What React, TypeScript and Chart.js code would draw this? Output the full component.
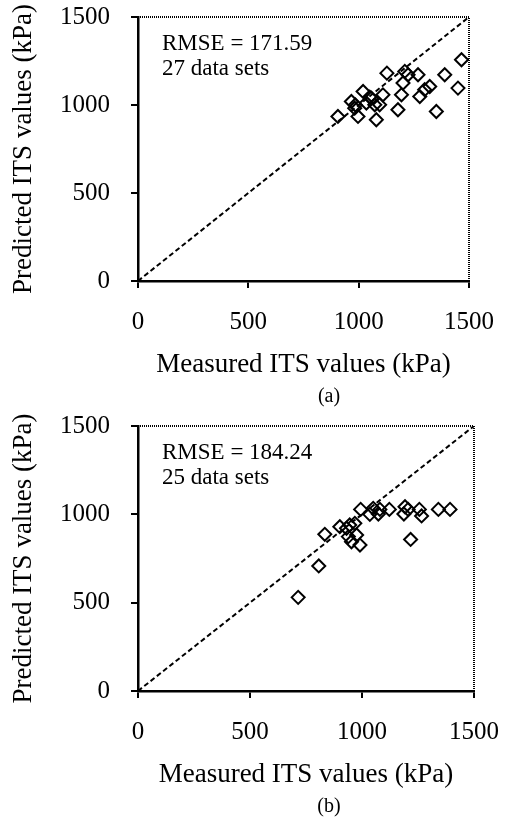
import React, { useEffect, useRef } from "react";
import { Chart, registerables } from "chart.js";

Chart.register(...registerables);

// Panel (a)
const measuredA = [906, 967, 982, 997, 1020, 1035, 1058, 1073, 1080, 1095, 1110, 1128, 1178, 1194, 1201, 1209, 1224, 1269, 1277, 1299, 1322, 1352, 1390, 1450, 1466, 985, 1050];
const predictedA = [935, 1020, 982, 935, 1077, 1011, 1039, 1001, 916, 1001, 1058, 1181, 973, 1058, 1125, 1191, 1172, 1172, 1048, 1087, 1105, 963, 1172, 1096, 1257, 1000, 1045];

// Panel (b)
const measuredB = [715, 807, 834, 901, 931, 939, 953, 968, 976, 991, 994, 1035, 1050, 1073, 1080, 1122, 1187, 1192, 1206, 1217, 1256, 1266, 1341, 1393, 945];
const predictedB = [530, 708, 887, 930, 921, 874, 845, 949, 883, 826, 1028, 1000, 1034, 1002, 1028, 1028, 1002, 1043, 1028, 858, 1028, 991, 1028, 1028, 940];

const equalityLine = [0, 1500];
const axisMin = 0;
const axisMax = 1500;
const tickStep = 500;

const xTitle = "Measured ITS values (kPa)";
const yTitle = "Predicted ITS values (kPa)";

const FONT = "'Liberation Serif', 'Times New Roman', serif";

type PanelProps = {
  xs: number[];
  ys: number[];
  note1: string;
  note2: string;
  caption: string;
  padTop: number;
  padRight: number;
  padBottom: number;
};

const textPlugin = {
  id: "figText",
  afterDraw(chart: any) {
    const { ctx, chartArea } = chart;
    const o = chart.options.plugins.figText;
    ctx.save();
    // dotted top and right frame
    ctx.strokeStyle = "#000";
    ctx.lineWidth = 2;
    ctx.setLineDash([1, 1]);
    ctx.beginPath();
    ctx.moveTo(chartArea.left, chartArea.top);
    ctx.lineTo(chartArea.right, chartArea.top);
    ctx.lineTo(chartArea.right, chartArea.bottom);
    ctx.stroke();
    ctx.setLineDash([]);
    ctx.fillStyle = "#000";
    ctx.textAlign = "left";
    ctx.textBaseline = "alphabetic";
    ctx.font = `23px ${FONT}`;
    ctx.fillText(o.note1, chartArea.left + 24, chartArea.top + 33);
    ctx.fillText(o.note2, chartArea.left + 24, chartArea.top + 58);
    ctx.textAlign = "center";
    ctx.font = `20px ${FONT}`;
    ctx.fillText(o.caption, chartArea.left + 191, chartArea.bottom + 121);
    ctx.restore();
  },
};

function Panel(props: PanelProps) {
  const ref = useRef<HTMLCanvasElement | null>(null);
  useEffect(() => {
    if (!ref.current) return;
    const points = props.xs.map((x, i) => ({ x, y: props.ys[i] }));
    const diag = equalityLine.map((v) => ({ x: v, y: v }));
    const axisCommon = (title: string, isX: boolean) => ({
      type: "linear" as const,
      min: axisMin,
      max: axisMax,
      ticks: {
        stepSize: tickStep,
        color: "#000",
        font: { family: FONT, size: 25 },
        padding: isX ? 19 : 21,
        callback: (v: any) => String(v),
      },
      grid: {
        display: true,
        drawOnChartArea: false,
        drawTicks: true,
        tickLength: 7,
        color: "#000",
        lineWidth: 2,
      },
      border: { display: true, color: "#000", width: 2.5 },
      title: {
        display: true,
        text: title,
        color: "#000",
        font: { family: FONT, size: 27 },
        padding: isX ? { top: 0, bottom: 3 } : { top: 8, bottom: 0 },
      },
      afterFit: (scale: any) => {
        if (isX) {
          scale.height = 103;
          scale.paddingLeft = 0;
          scale.paddingRight = 0;
        } else {
          scale.width = 138;
          scale.paddingTop = 0;
          scale.paddingBottom = 0;
        }
      },
    });
    const chart = new Chart(ref.current, {
      type: "scatter",
      data: {
        datasets: [
          {
            type: "line",
            data: diag,
            borderColor: "#000",
            borderWidth: 2,
            borderDash: [5, 3],
            pointRadius: 0,
            fill: false,
          } as any,
          {
            type: "scatter",
            data: points,
            pointStyle: "rectRot",
            pointRadius: 6.5,
            pointBorderWidth: 2,
            borderColor: "#000",
            backgroundColor: "rgba(0,0,0,0)",
            borderWidth: 2,
          } as any,
        ],
      },
      options: {
        animation: false,
        responsive: true,
        maintainAspectRatio: false,
        layout: {
          padding: { left: 0, right: props.padRight, top: props.padTop, bottom: props.padBottom },
        },
        scales: {
          x: axisCommon(xTitle, true),
          y: axisCommon(yTitle, false),
        } as any,
        plugins: {
          legend: { display: false },
          tooltip: { enabled: false },
          figText: { note1: props.note1, note2: props.note2, caption: props.caption },
        } as any,
      },
      plugins: [textPlugin],
    });
    return () => chart.destroy();
  }, []);
  return (
    <div style={{ position: "relative", width: 508, height: 411 }}>
      <canvas ref={ref} />
    </div>
  );
}

export default function App() {
  return (
    <div style={{ position: "absolute", left: 0, top: 0, width: 508, height: 822, background: "#fff" }}>
      <Panel
        xs={measuredA}
        ys={predictedA}
        note1="RMSE = 171.59"
        note2="27 data sets"
        caption="(a)"
        padTop={17}
        padRight={39}
        padBottom={27}
      />
      <Panel
        xs={measuredB}
        ys={predictedB}
        note1="RMSE = 184.24"
        note2="25 data sets"
        caption="(b)"
        padTop={15}
        padRight={34}
        padBottom={28}
      />
    </div>
  );
}
